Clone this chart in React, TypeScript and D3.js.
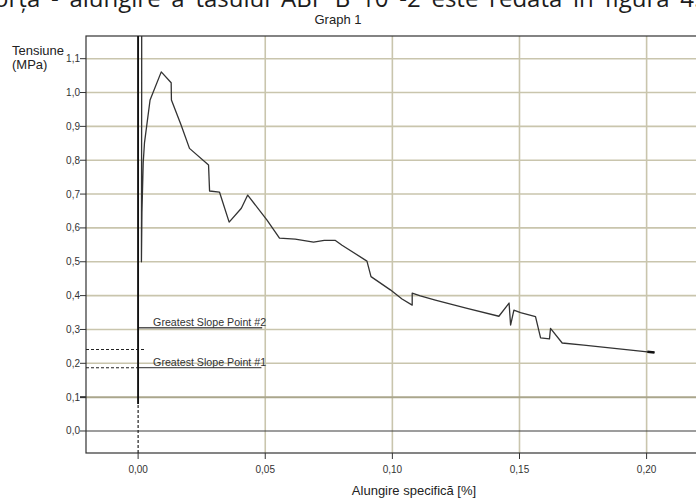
import React from "react";
import * as d3 from "d3";

// Stress–strain record (strain in %, stress in MPa)
const strain = [
  0, 0, 0.0014, 0.0014, 0.0013, 0.0015, 0.002, 0.0025, 0.0047, 0.0091, 0.013, 0.0131,
  0.0169, 0.0202, 0.0277, 0.0281, 0.032, 0.0358, 0.0406, 0.0431, 0.0507, 0.0556, 0.0618,
  0.069, 0.0732, 0.0776, 0.0802, 0.09, 0.0916, 0.0992, 0.1038, 0.1078, 0.1078, 0.111,
  0.1169, 0.1294, 0.1419, 0.1459, 0.1465, 0.1478, 0.1504, 0.1563, 0.1583, 0.1618, 0.1622,
  0.1668, 0.1753, 0.2003, 0.2031,
];
const stress = [
  0.08, 1.35, 1.35, 1.01, 0.5, 0.644, 0.792, 0.851, 0.978, 1.061, 1.029, 0.978,
  0.904, 0.835, 0.786, 0.709, 0.706, 0.617, 0.658, 0.697, 0.623, 0.57, 0.567,
  0.558, 0.563, 0.563, 0.549, 0.502, 0.456, 0.417, 0.39, 0.372, 0.407, 0.399,
  0.387, 0.362, 0.339, 0.378, 0.313, 0.357, 0.35, 0.338, 0.275, 0.272, 0.303,
  0.26, 0.254, 0.234, 0.232,
];

// Greatest slope markers: stress level and extent along strain
const slopeLabels = ["Greatest Slope Point #2", "Greatest Slope Point #1"];
const slopeStress = [0.305, 0.187];
const slopeEnd = [0.0488, 0.0485];
// Dashed guide lines drawn from the left frame
const guideStress = [0.241, 0.187];
const guideEnd = [0.0028, 0];

const xTicks = [0, 0.05, 0.1, 0.15, 0.2];
const yTicks = [0, 0.1, 0.2, 0.3, 0.4, 0.5, 0.6, 0.7, 0.8, 0.9, 1.0, 1.1];

const W = 696;
const H = 498;
const left = 86;
const right = 700;
const top = 36;
const bottom = 453;

export default function App() {
  const x = d3.scaleLinear().domain([-0.0205, 0.221]).range([left, right]);
  const y = d3.scaleLinear().domain([-0.065, 1.167]).range([bottom, top]);

  const pts: [number, number][] = strain.map((s, i) => [s, stress[i]]);
  const line = d3
    .line<[number, number]>()
    .x((d) => x(d[0]))
    .y((d) => y(d[1]));

  const fmtX = (v: number) => d3.format(".2f")(v).replace(".", ",");
  const fmtY = (v: number) => d3.format(".1f")(v).replace(".", ",");
  const grid = "#c9c5ad";
  const font = "Liberation Sans, Arial, sans-serif";

  const last = pts.slice(-2);

  return (
    <svg
      width={W}
      height={H}
      style={{ position: "absolute", left: 0, top: 0, background: "#fff" }}
      fontFamily={font}
    >
      <defs>
        <clipPath id="plot">
          <rect x={left} y={top} width={right - left} height={bottom - top} />
        </clipPath>
      </defs>
      <rect width={W} height={H} fill="#fff" />

      {/* running text line above the figure (justified paragraph) */}
      <text
        x={-14}
        y={6.5}
        fontSize={24}
        wordSpacing={4.5}
        fontFamily="Open Sans, Noto Sans, sans-serif"
        fill="#1c1c1c"
      >
        forța - alungire a tasului ABF B 10 -2 este redată în figura 4.
      </text>

      <text x={338} y={24} fontSize={13} textAnchor="middle" fill="#222">
        Graph 1
      </text>

      {/* grid */}
      {xTicks.slice(1).map((t) => (
        <line key={"gx" + t} x1={x(t)} x2={x(t)} y1={top} y2={bottom} stroke={grid} strokeWidth={1.6} />
      ))}
      {yTicks.map((t) => (
        <line
          key={"gy" + t}
          x1={left}
          x2={right}
          y1={y(t)}
          y2={y(t)}
          stroke={t === 0 ? "#3c3c3c" : t === 0.1 ? "#aaa68c" : grid}
          strokeWidth={t === 0 ? 1.2 : t === 0.1 ? 2 : 1.6}
        />
      ))}

      {/* frame */}
      <rect x={left} y={top} width={right - left} height={bottom - top} fill="none" stroke="#333" strokeWidth={1.2} />

      {/* y axis ticks and labels */}
      {yTicks.map((t) => (
        <g key={"ty" + t}>
          <line x1={left - 6} x2={left} y1={y(t)} y2={y(t)} stroke="#333" strokeWidth={t === 0.1 ? 2 : 1} />
          <text x={left - 6} y={y(t) + 3.5} fontSize={10} textAnchor="end" fill="#333">
            {fmtY(t)}
          </text>
        </g>
      ))}

      {/* x axis ticks and labels */}
      {xTicks.map((t) => (
        <g key={"tx" + t}>
          <line x1={x(t)} x2={x(t)} y1={bottom} y2={bottom + 6} stroke="#333" strokeWidth={1} />
          <text x={x(t)} y={473} fontSize={10} textAnchor="middle" fill="#333">
            {fmtX(t)}
          </text>
        </g>
      ))}

      <text x={12} y={55} fontSize={13} fill="#222">
        Tensiune
      </text>
      <text x={12} y={69} fontSize={13} fill="#222">
        (MPa)
      </text>
      <text x={414} y={495} fontSize={13} textAnchor="middle" fill="#222">
        Alungire specifică [%]
      </text>

      {/* dashed guides */}
      <line
        x1={x(0)}
        x2={x(0)}
        y1={y(-0.065)}
        y2={y(0.08)}
        stroke="#222"
        strokeWidth={1.2}
        strokeDasharray="3,2"
      />
      {guideStress.map((v, i) => (
        <line
          key={"gd" + i}
          x1={left}
          x2={x(guideEnd[i])}
          y1={y(v)}
          y2={y(v)}
          stroke="#222"
          strokeWidth={1.1}
          strokeDasharray="3,2"
        />
      ))}

      {/* greatest slope markers */}
      {slopeStress.map((v, i) => (
        <g key={"sl" + i}>
          <line x1={x(0)} x2={x(slopeEnd[i])} y1={y(v)} y2={y(v)} stroke="#555" strokeWidth={1.3} />
          <text x={x(0.0059)} y={y(v) - 2} fontSize={10.5} fill="#333" textLength={113} lengthAdjust="spacingAndGlyphs">
            {slopeLabels[i]}
          </text>
        </g>
      ))}

      {/* stress–strain curve */}
      <g clipPath="url(#plot)">
        <path d={line(pts) || ""} fill="none" stroke="#333" strokeWidth={1.3} strokeLinejoin="round" />
        <path d={line(pts.slice(0, 2)) || ""} fill="none" stroke="#111" strokeWidth={1.8} />
        <path d={line(last) || ""} fill="none" stroke="#111" strokeWidth={2.4} />
      </g>
    </svg>
  );
}
